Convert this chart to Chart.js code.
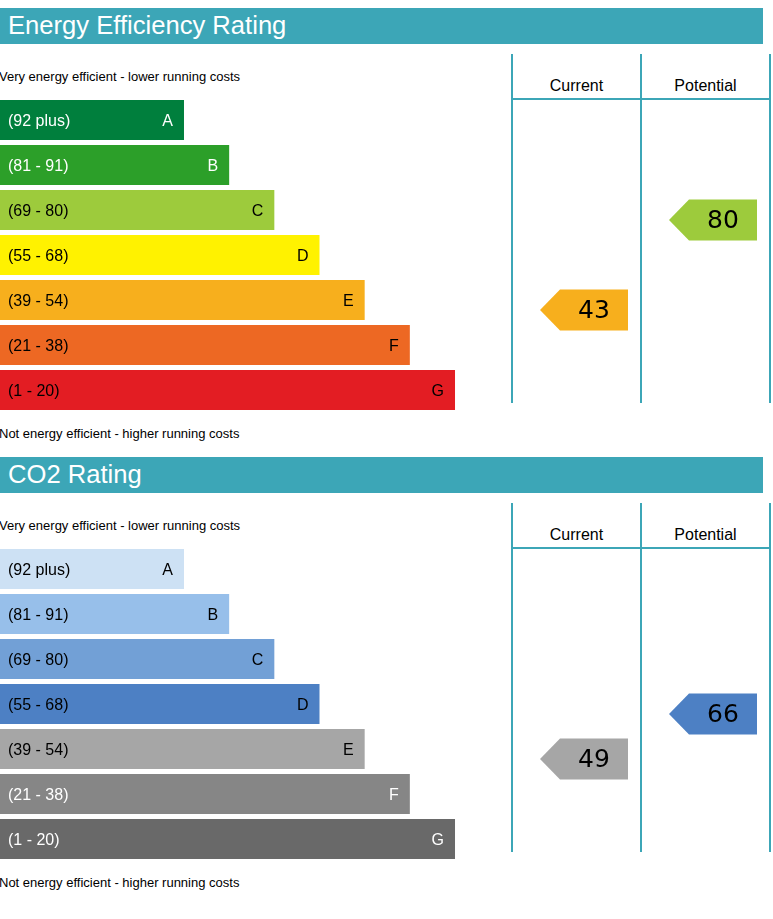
<!DOCTYPE html>
<html><head><meta charset="utf-8">
<script src="https://cdn.jsdelivr.net/npm/chart.js@4.4.1/dist/chart.umd.min.js"></script>
<style>
html,body{margin:0;padding:0;background:#fff;}
#page{position:relative;width:773px;height:919px;overflow:hidden;font-family:"Liberation Sans",Arial,sans-serif;}
.sec{position:absolute;left:0;width:773px;height:449px;}
.title{position:absolute;left:0;top:8px;width:763px;height:36px;background:#3ca6b7;color:#fff;font-size:25.6px;line-height:35px;padding-left:8px;box-sizing:border-box;white-space:nowrap;}
.note{position:absolute;left:-1px;font-size:13px;line-height:15px;color:#000;white-space:nowrap;}
.hdr{position:absolute;top:76px;width:129px;text-align:center;font-size:16px;line-height:20px;color:#000;}
.vl{position:absolute;top:54px;width:2px;height:349px;background:#3ca6b7;}
.hl{position:absolute;top:97.5px;left:512px;width:258px;height:2px;background:#3ca6b7;}
canvas{position:absolute;left:0;top:0;}
</style>
</head>
<body>
<div id="page">
  <div class="sec" style="top:0px;">
    <div class="title">Energy Efficiency Rating</div>
    <div class="note" style="top:69px;">Very energy efficient - lower running costs</div>
    <div class="note" style="top:426px;">Not energy efficient - higher running costs</div>
    <div class="vl" style="left:511px;"></div>
    <div class="vl" style="left:640px;"></div>
    <div class="vl" style="left:769px;"></div>
    <div class="hl"></div>
    <div class="hdr" style="left:512px;">Current</div>
    <div class="hdr" style="left:641px;">Potential</div>
    <canvas id="c1" width="773" height="420" style="width:773px;height:420px;"></canvas>
  </div>
  <div class="sec" style="top:449px;">
    <div class="title">CO2 Rating</div>
    <div class="note" style="top:69px;">Very energy efficient - lower running costs</div>
    <div class="note" style="top:426px;">Not energy efficient - higher running costs</div>
    <div class="vl" style="left:511px;"></div>
    <div class="vl" style="left:640px;"></div>
    <div class="vl" style="left:769px;"></div>
    <div class="hl"></div>
    <div class="hdr" style="left:512px;">Current</div>
    <div class="hdr" style="left:641px;">Potential</div>
    <canvas id="c2" width="773" height="420" style="width:773px;height:420px;"></canvas>
  </div>
</div>
<script>
const bandLetters = ['A','B','C','D','E','F','G'];
const bandRanges = ['(92 plus)','(81 - 91)','(69 - 80)','(55 - 68)','(39 - 54)','(21 - 38)','(1 - 20)'];
const bandMinScores = [92,81,69,55,39,21,1];
const barLengths = [4,5,6,7,8,9,10];
const energyColors = ['#007f3d','#2c9f29','#9dcb3c','#fff200','#f7af1d','#ed6823','#e31d23'];
const energyTextColors = ['#ffffff','#ffffff','#000000','#000000','#000000','#000000','#000000'];
const co2Colors = ['#cde1f4','#97bfea','#72a0d6','#4d80c4','#a6a6a6','#868686','#696969'];
const co2TextColors = ['#000000','#000000','#000000','#000000','#000000','#ffffff','#ffffff'];
const energyCurrent = 43;
const energyPotential = 80;
const co2Current = 49;
const co2Potential = 66;

const X_MIN = -0.0735;
const X_MAX = 17.04;

const epcPlugin = {
  id: 'epc',
  afterDatasetsDraw(chart, args, opts) {
    const ctx = chart.ctx;
    const meta = chart.getDatasetMeta(0);
    ctx.save();
    ctx.font = '16px "Liberation Sans", Arial, sans-serif';
    ctx.textBaseline = 'alphabetic';
    meta.data.forEach((bar, i) => {
      ctx.fillStyle = opts.textColors[i];
      ctx.textAlign = 'left';
      ctx.fillText(bandRanges[i], 8, bar.y + 5.7);
      ctx.textAlign = 'right';
      ctx.fillText(bandLetters[i], bar.x - 11, bar.y + 5.7);
    });
    const yScale = chart.scales.y;
    [[opts.current, 540], [opts.potential, 669]].forEach(([score, tipX]) => {
      const idx = bandMinScores.findIndex(m => score >= m);
      const cy = yScale.getPixelForValue(idx) + 10;
      const half = 20.5;
      const bodyX = tipX + 20, right = tipX + 88;
      ctx.fillStyle = opts.colors[idx];
      ctx.beginPath();
      ctx.moveTo(tipX, cy);
      ctx.lineTo(bodyX, cy - half);
      ctx.lineTo(right, cy - half);
      ctx.lineTo(right, cy + half);
      ctx.lineTo(bodyX, cy + half);
      ctx.closePath();
      ctx.fill();
      ctx.fillStyle = '#000';
      ctx.font = '25px "DejaVu Sans", sans-serif';
      ctx.textAlign = 'center';
      ctx.fillText(String(score), (bodyX + right) / 2, cy + 8);
    });
    ctx.restore();
  }
};

function makeChart(id, colors, textColors, current, potential) {
  return new Chart(document.getElementById(id), {
    type: 'bar',
    data: {
      labels: bandLetters,
      datasets: [{
        data: barLengths,
        base: X_MIN,
        backgroundColor: colors,
        borderWidth: 0,
        inflateAmount: 0,
        barPercentage: 40 / 45,
        categoryPercentage: 1
      }]
    },
    options: {
      indexAxis: 'y',
      responsive: false,
      animation: false,
      events: [],
      layout: { padding: { top: 97.5, bottom: 7.5, left: 0, right: 0 } },
      scales: {
        x: { display: false, min: X_MIN, max: X_MAX },
        y: { display: false }
      },
      plugins: {
        legend: { display: false },
        tooltip: { enabled: false },
        epc: { colors, textColors, current, potential }
      }
    },
    plugins: [epcPlugin]
  });
}

makeChart('c1', energyColors, energyTextColors, energyCurrent, energyPotential);
makeChart('c2', co2Colors, co2TextColors, co2Current, co2Potential);
</script>
</body>
</html>
